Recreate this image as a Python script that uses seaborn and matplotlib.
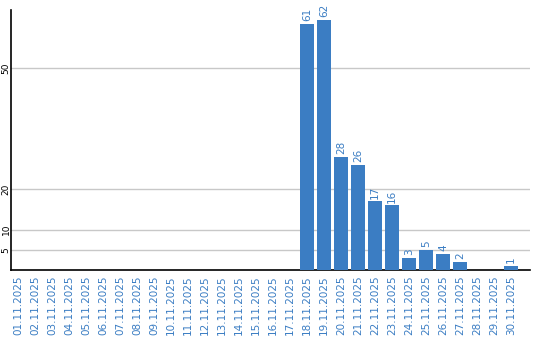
import matplotlib
matplotlib.use("Agg")
import matplotlib.pyplot as plt
import seaborn as sns
import pandas as pd

dates = [f"{d:02d}.11.2025" for d in range(1, 31)]
values = [0, 0, 0, 0, 0, 0, 0, 0, 0, 0, 0, 0, 0, 0, 0, 0, 0,
          61, 62, 28, 26, 17, 16, 3, 5, 4, 2, 0, 0, 1]
yticks = [5, 10, 20, 50]

BLUE = "#3b7dc3"

sns.set_theme(style="white")
plt.rcParams['font.family'] = ['DejaVu Sans']

df = pd.DataFrame({"date": dates, "value": values})

fig = plt.figure(figsize=(5.4, 3.4), dpi=100)
ax = fig.add_axes([11/540, 1 - 270/340, (530 - 11)/540, (270 - 10)/340])

sns.barplot(data=df, x="date", y="value", color=BLUE, saturation=1,
            width=0.82, linewidth=0, ax=ax, zorder=3)

ax.set_xlim(-0.41, 30.1)
ax.set_ylim(0, 64.4)
ax.set_yticks(yticks)
ax.set_yticklabels([str(t) for t in yticks], rotation=90, va="center",
                   ha="center", fontsize=6.5, color="black")
ax.grid(axis="y", color="#c8c8c8", linewidth=1, zorder=0)
ax.set_axisbelow(True)
ax.tick_params(axis="y", length=0, pad=3.6)
ax.tick_params(axis="x", length=0, pad=4)
for lbl in ax.get_xticklabels():
    lbl.set_rotation(90)
    lbl.set_fontsize(7.5)
    lbl.set_color(BLUE)
ax.set_xlabel("")
ax.set_ylabel("")

for s in ["top", "right"]:
    ax.spines[s].set_visible(False)
for s in ["left", "bottom"]:
    ax.spines[s].set_color("black")
    ax.spines[s].set_linewidth(1.2)

for i, v in enumerate(values):
    if v > 0:
        ax.annotate(str(v), (i, v), xytext=(0, 2), textcoords="offset points",
                    rotation=90, ha="center", va="bottom", fontsize=7.5,
                    color=BLUE)

fig.savefig("out.png", dpi=100)
